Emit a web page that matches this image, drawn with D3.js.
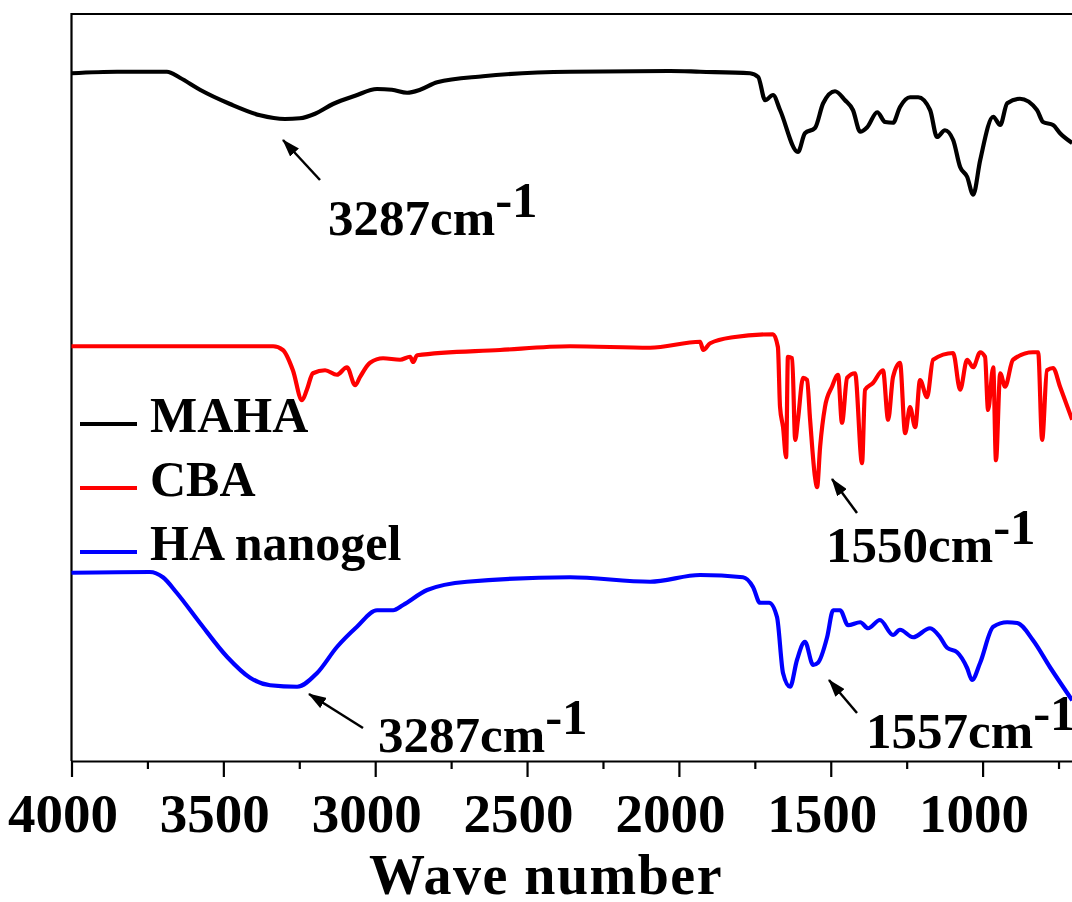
<!DOCTYPE html>
<html>
<head>
<meta charset="utf-8">
<script src="https://cdn.jsdelivr.net/npm/d3@7"></script>
<style>
  body { margin: 0; background: #fff; }
  text { font-family: "Liberation Serif", "Times New Roman", serif; font-weight: bold; fill: #000; }
</style>
</head>
<body>
<svg id="ftir" width="1072" height="902"></svg>
<script>
// series: [wavenumber (cm-1), transmittance (a.u., offset)]
var seriesNames = ["MAHA", "CBA", "HA nanogel"];
var seriesColors = ["#000000", "#ff0000", "#0000ff"];
var majorTicks = [4000, 3500, 3000, 2500, 2000, 1500, 1000];
var minorTicks = [3750, 3250, 2750, 2250, 1750, 1250, 750];

var maha = [
  [4000, 91.7], [3850, 91.9], [3686, 91.9], [3643, 91.1], [3577, 89.5], [3478, 87.6],
  [3379, 86.1], [3297, 85.6], [3248, 85.7], [3198, 86.3], [3139, 87.6], [3066, 88.7],
  [2994, 89.6], [2945, 89.5], [2895, 89.1], [2852, 89.5], [2796, 90.5], [2645, 91.3],
  [2358, 91.9], [2029, 92.0], [1930, 91.9], [1766, 91.7], [1739, 91.2], [1716, 88.1],
  [1690, 88.8], [1667, 86.8], [1608, 81.2], [1585, 83.7], [1552, 84.4], [1525, 87.7],
  [1486, 89.3], [1453, 88.1], [1427, 86.8], [1403, 83.9], [1380, 84.5], [1347, 86.5],
  [1321, 85.2], [1295, 85.1], [1272, 87.2], [1239, 88.5], [1212, 88.5], [1173, 86.8],
  [1150, 83.2], [1124, 84.1], [1097, 82.8], [1074, 79.2], [1051, 77.9], [1031, 75.5],
  [1008, 80.1], [965, 85.9], [942, 84.8], [919, 87.7], [877, 88.3], [821, 86.8],
  [801, 85.2], [768, 84.8], [745, 83.7], [705, 82.4]
];

var cba = [
  [4000, 55.3], [3700, 55.3], [3336, 55.3], [3304, 54.8], [3271, 52.1], [3241, 48.1],
  [3225, 49.5], [3205, 51.7], [3165, 52.1], [3126, 51.5], [3093, 52.5], [3066, 50.1],
  [3050, 51.2], [3017, 53.1], [2974, 53.7], [2918, 53.5], [2885, 53.9], [2875, 53.2],
  [2862, 54.1], [2589, 54.8], [2358, 55.3], [2095, 55.1], [1930, 55.9], [1920, 54.8],
  [1897, 55.7], [1822, 56.5], [1690, 56.9], [1674, 55.2], [1667, 47.2], [1657, 44.5],
  [1647, 40.5], [1641, 53.9], [1627, 53.7], [1617, 42.8], [1608, 45.5], [1591, 51.1],
  [1578, 50.8], [1568, 45.5], [1552, 37.9], [1545, 36.5], [1535, 41.9], [1519, 47.2],
  [1496, 49.9], [1476, 51.5], [1463, 45.1], [1446, 51.1], [1420, 51.7], [1397, 39.7],
  [1387, 49.5], [1361, 50.4], [1328, 52.1], [1311, 45.5], [1295, 51.2], [1272, 53.1],
  [1255, 43.7], [1239, 47.2], [1222, 44.5], [1206, 50.8], [1183, 48.5], [1163, 53.5],
  [1097, 54.4], [1074, 49.5], [1051, 53.5], [1031, 52.5], [1008, 54.5], [992, 53.9],
  [982, 46.8], [965, 52.5], [956, 40.1], [942, 51.7], [926, 49.9], [900, 53.5],
  [834, 54.5], [817, 54.5], [804, 42.8], [788, 52.1], [768, 52.4], [745, 49.9], [705, 45.5]
];

var nanogel = [
  [4000, 25.1], [3742, 25.2], [3699, 24.5], [3653, 22.4], [3577, 18.4], [3488, 13.9],
  [3412, 11.1], [3346, 10.1], [3257, 9.9], [3192, 11.7], [3126, 15.2], [3060, 17.9],
  [2994, 20.1], [2941, 20.1], [2908, 20.8], [2829, 22.8], [2698, 23.9], [2358, 24.5],
  [2095, 23.9], [1930, 24.8], [1789, 24.5], [1756, 23.2], [1733, 21.1], [1703, 21.1],
  [1677, 19.2], [1657, 11.7], [1634, 9.9], [1611, 13.5], [1585, 15.9], [1558, 12.8],
  [1542, 13.1], [1512, 16.5], [1492, 20.1], [1469, 20.1], [1443, 18.1], [1403, 18.5],
  [1377, 17.7], [1338, 18.8], [1295, 16.8], [1272, 17.5], [1229, 16.5], [1173, 17.7],
  [1140, 16.5], [1117, 15.1], [1084, 14.5], [1051, 12.4], [1035, 10.8], [1008, 13.1],
  [965, 17.9], [919, 18.5], [886, 18.4], [834, 16.1], [778, 12.5], [705, 8.1]
];

var peakLabels = ["3287", "1550", "3287", "1557"];

var svg = d3.select("#ftir"),
    plotLeft = 71.5, plotTop = 14, plotBottom = 761;

var x = d3.scaleLinear()
    .domain([4000, 680])
    .range([plotLeft, plotLeft + 3320 * 0.3037]);
var y = d3.scaleLinear()
    .domain([0, 100])
    .range([plotBottom, plotBottom - 750]);

var line = d3.line()
    .x(function(d) { return x(d[0]); })
    .y(function(d) { return y(d[1]); })
    .curve(d3.curveMonotoneX);

svg.append("defs").append("marker")
    .attr("id", "head")
    .attr("markerUnits", "userSpaceOnUse")
    .attr("markerWidth", 18).attr("markerHeight", 12)
    .attr("refX", 17).attr("refY", 6)
    .attr("orient", "auto")
  .append("path")
    .attr("d", "M0,0L18,6L0,12Z")
    .attr("fill", "#000");

// frame (right edge falls outside the picture)
svg.append("path")
    .attr("d", "M" + plotLeft + "," + plotBottom + "V" + plotTop + "H" + (x.range()[1] + 4))
    .attr("fill", "none")
    .attr("stroke", "#000")
    .attr("stroke-width", 2.2);

[maha, cba, nanogel].forEach(function(s, i) {
  svg.append("path")
      .datum(s)
      .attr("d", line)
      .attr("fill", "none")
      .attr("stroke", seriesColors[i])
      .attr("stroke-width", 4.2)
      .attr("stroke-linejoin", "round");
});

var xAxis = svg.append("g")
    .attr("transform", "translate(0," + plotBottom + ")")
    .attr("font-family", null)
    .call(d3.axisBottom(x).tickValues(majorTicks).tickSize(16).tickSizeOuter(0).tickFormat(d3.format("d")));
xAxis.attr("font-family", null).attr("font-size", null);
xAxis.select(".domain").attr("stroke-width", 2.2);
xAxis.selectAll(".tick line").attr("stroke-width", 2.2);
xAxis.selectAll(".tick text")
    .attr("y", 71).attr("dy", 0).attr("dx", -9)
    .attr("font-size", 55)
    .attr("fill", "#000");

var xMinor = svg.append("g")
    .attr("transform", "translate(0," + plotBottom + ")")
    .call(d3.axisBottom(x).tickValues(minorTicks).tickSize(8).tickFormat(""));
xMinor.select(".domain").remove();
xMinor.selectAll(".tick line").attr("stroke-width", 2.2);

svg.append("text")
    .attr("x", 546).attr("y", 894)
    .attr("text-anchor", "middle")
    .attr("font-size", 56)
    .attr("letter-spacing", 1.5)
    .text("Wave number");

// legend
var legend = svg.append("g");
seriesNames.forEach(function(name, i) {
  legend.append("line")
      .attr("x1", 80).attr("x2", 137)
      .attr("y1", 424 + 64 * i).attr("y2", 424 + 64 * i)
      .attr("stroke", seriesColors[i])
      .attr("stroke-width", 4);
  legend.append("text")
      .attr("x", 150).attr("y", 432 + 64 * i)
      .attr("font-size", 50)
      .text(name);
});

// peak annotations
var notes = [
  {tx: 328, ty: 235, arrow: [320, 180, 283, 140]},
  {tx: 826, ty: 562, arrow: [857, 513, 832, 479]},
  {tx: 378, ty: 752, arrow: [363, 728, 309, 694]},
  {tx: 866, ty: 748, arrow: [857, 713, 829, 680]}
];
notes.forEach(function(n, i) {
  svg.append("line")
      .attr("x1", n.arrow[0]).attr("y1", n.arrow[1])
      .attr("x2", n.arrow[2]).attr("y2", n.arrow[3])
      .attr("stroke", "#000")
      .attr("stroke-width", 2.5)
      .attr("marker-end", "url(#head)");
  var t = svg.append("text")
      .attr("x", n.tx).attr("y", n.ty)
      .attr("font-size", 51);
  t.append("tspan").text(peakLabels[i] + "cm");
  t.append("tspan").attr("dy", -18).text("-1");
});
</script>
</body>
</html>
